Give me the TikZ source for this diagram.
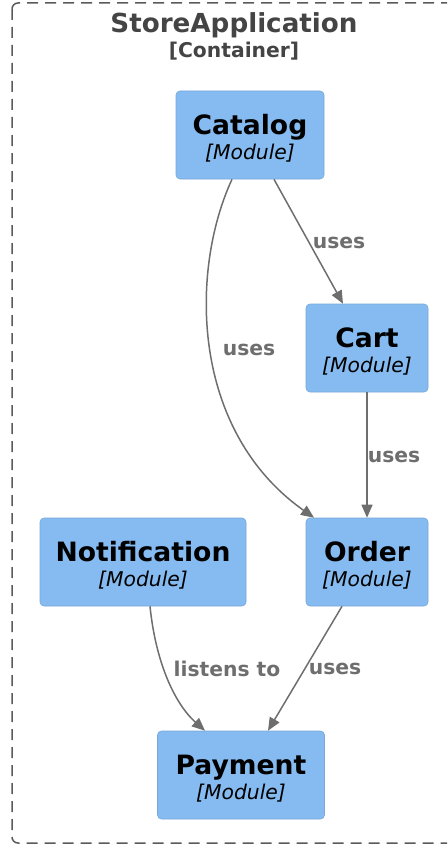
\documentclass[tikz,border=0pt]{standalone}
\usepackage{fontspec}
\setmainfont{DejaVu Sans}
\usetikzlibrary{arrows.meta}
\definecolor{modfill}{HTML}{85BBF0}
\definecolor{modline}{HTML}{78A8D8}
\definecolor{relgray}{HTML}{6E6E6E}
\definecolor{titlegray}{HTML}{444444}
\definecolor{framegray}{HTML}{5A5A5A}
\tikzset{
  module/.style={draw=modline, fill=modfill, rounded corners=4pt, line width=0.6pt,
    minimum height=88pt, align=center, inner sep=0pt,
    font=\fontsize{20.3}{25}\selectfont},
  rel/.style={draw=relgray, line width=1.5pt,
    -{Triangle[length=13pt,width=11pt]}},
  rellabel/.style={text=relgray, font=\fontsize{20.3}{22}\selectfont\bfseries, inner sep=1pt},
}
% module name in bold over its type in italics; the strut lowers the pair a little
\newcommand{\modtext}[1]{{\fontsize{26.6}{26}\selectfont\bfseries\rule{0pt}{27pt}#1}\\{\itshape [Module]}}
\begin{document}
\begin{tikzpicture}[x=1pt,y=-1pt]
  \useasboundingbox (0,0) rectangle (447,848);
  \clip (0,0) rectangle (447,848);
  % container frame
  \draw[framegray, line width=1.5pt, dash pattern=on 11pt off 7pt, rounded corners=6pt]
    (12,3) rectangle (470,843);
  \node[text=titlegray, font=\fontsize{26.2}{28}\selectfont\bfseries] (ttl) at (234,25) {StoreApplication};
  \node[text=titlegray, font=\fontsize{20.3}{22}\selectfont\bfseries] (sub) at (234,51) {[Container]};
  % modules
  \node[module, minimum width=148pt] (catalog) at (250,135) {\modtext{Catalog}};
  \node[module, minimum width=122pt] (cart) at (367,348) {\modtext{Cart}};
  \node[module, minimum width=206pt] (notif) at (143,562) {\modtext{Notification}};
  \node[module, minimum width=122pt] (order) at (367,562) {\modtext{Order}};
  \node[module, minimum width=167pt] (payment) at (241,775) {\modtext{Payment}};
  % relations
  \draw[rel] ([xshift=24pt]catalog.south) -- ([xshift=-24pt]cart.north);
  \node[rellabel] (l1) at (339,243) {uses};
  \draw[rel] ([xshift=-18pt]catalog.south) .. controls (190,270) and (190,430) .. ([xshift=-53pt]order.north);
  \node[rellabel] (l2) at (249,350) {uses};
  \draw[rel] (cart.south) -- (order.north);
  \node[rellabel] (l3) at (394,457) {uses};
  \draw[rel] ([xshift=7pt]notif.south) .. controls (156,665) and (176,705) .. ([xshift=-36pt]payment.north);
  \node[rellabel] (l4) at (227,669) {listens to};
  \draw[rel] ([xshift=-25pt]order.south) -- ([xshift=27pt]payment.north);
  \node[rellabel] (l5) at (335,669) {uses};
\end{tikzpicture}
\end{document}
